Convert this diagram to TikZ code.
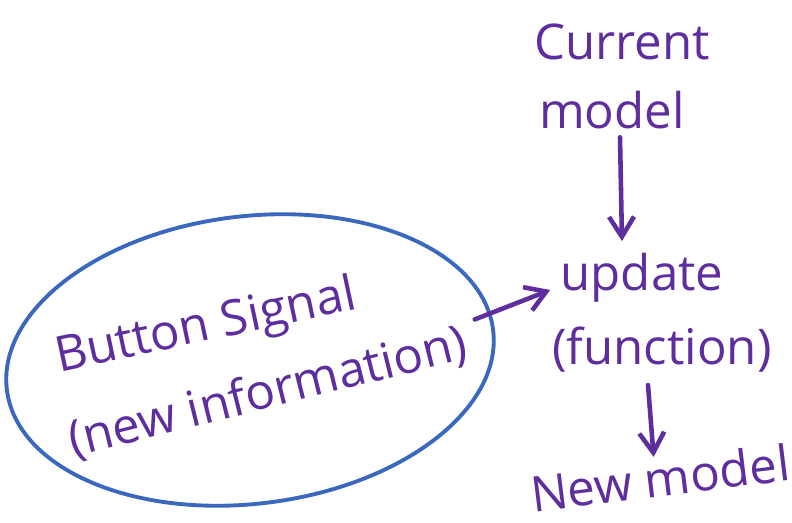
\documentclass[tikz,border=0pt]{standalone}
\usepackage{fontspec}
\setmainfont{Open Sans}
\usetikzlibrary{arrows.meta,positioning,shapes.geometric,calc}
\definecolor{ink}{HTML}{5E2E9E}
\definecolor{pen}{HTML}{3A68BE}

\begin{document}
\begin{tikzpicture}[x=0.02cm,y=-0.02cm,
    word/.style={text=ink,font=\fontsize{28}{30}\selectfont,inner sep=0pt},
    flow/.style={ink,line width=2.6pt,line cap=round,-{Straight Barb[length=4mm,width=5mm,line width=2.6pt]}}]
  \useasboundingbox (0,0) rectangle (792,523);
  % the blob round the signal
  \node[ellipse,draw=pen,line width=2.2pt,minimum width=9.8cm,minimum height=5.75cm,rotate=7] (blob) at (250,360) {};
  \node[word,rotate=12] (button) at (206,328) {Button Signal};
  \node[word,rotate=14] (info) at (268,393) {(new information)};
  % right column
  \node[word] (current) at (622,42) {Current};
  \node[word] (model) at (612,110) {model};
  \node[word] (update) at (642,278) {update};
  \node[word] (function) at (662,350) {(function)};
  \node[word,rotate=7] (newmodel) at (660,478) {New model};
  \draw[flow] ($(info.east)+(8,-24)$) -- ($(update.west)+(-10,12)$);
  \draw[flow] ($(model.south)+(8,8)$) -- ($(update.north)+(-20,-12)$);
  \draw[flow] ($(function.south)+(-14,12)$) -- ($(newmodel.north)+(-4,-2)$);
\end{tikzpicture}
\end{document}
